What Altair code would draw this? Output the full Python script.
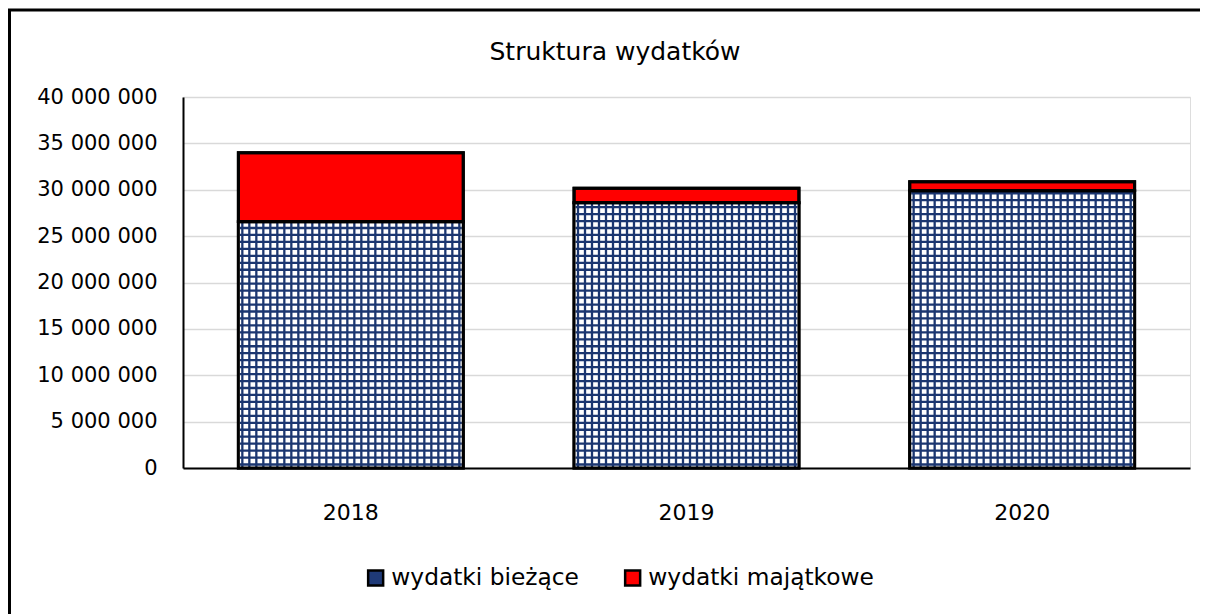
import altair as alt
import pandas as pd

years = ["2018", "2019", "2020"]
biezace = [26550000, 28600000, 29900000]
majatkowe = [7450000, 1560000, 970000]
categories = ["wydatki bieżące", "wydatki majątkowe"]
colors = ["#1F3A78", "#FF0000"]
title_text = "Struktura wydatków"

rows = []
for y, b, m in zip(years, biezace, majatkowe):
    rows.append({"rok": y, "kategoria": categories[0], "start": 0, "end": b})
    rows.append({"rok": y, "kategoria": categories[1], "start": b, "end": b + m})
df = pd.DataFrame(rows)

W, H = 1007, 371
YMAX = 40000000
NAVY = "#1B3670"
FONT = "DejaVu Sans"
STEP_PX = W / len(years)
CELL = 7 / STEP_PX          # pattern cell size, in band units
HALF = 111 / STEP_PX        # half width of the hatched area, in band units
years_js = "[" + ",".join("'%s'" % y for y in years) + "]"

xaxis = alt.Axis(
    title=None, labelAngle=0, ticks=False, labelPadding=34, labelFontSize=22,
    labelFont=FONT, labelColor="black", domainColor="black", domainWidth=2, grid=False,
)
xscale = alt.Scale(paddingInner=0.33, paddingOuter=0.165)
xenc = alt.X("rok:N", sort=years, scale=xscale, axis=xaxis)
xenc_noaxis = alt.X("rok:N", sort=years, scale=xscale, axis=None)
qscale = alt.Scale(domain=[0, len(years)], nice=False, zero=False)

yscale = alt.Scale(domain=[0, YMAX], nice=False)
yaxis = alt.Axis(
    title=None, values=list(range(0, YMAX + 1, 5000000)), ticks=False, labelPadding=26,
    labelFontSize=21, labelFont=FONT, labelColor="black", domainColor="black",
    domainWidth=2, gridColor="#D9D9D9", gridWidth=1.5,
    labelExpr="replace(format(datum.value, ','), regexp(',', 'g'), ' ')",
)
yenc = alt.Y("start:Q", scale=yscale, axis=yaxis)

border = alt.Chart(pd.DataFrame({"a": [0]})).mark_rect(
    fillOpacity=0, stroke="black", strokeWidth=3
).encode(
    x=alt.value(-173.5), x2=alt.value(W + 60), y=alt.value(-87), y2=alt.value(H + 220)
)

title = alt.Chart(pd.DataFrame({"t": [title_text]})).mark_text(
    font=FONT, fontSize=25, color="black", baseline="middle", align="center"
).encode(text="t:N", x=alt.value(432), y=alt.value(-45))

base = alt.Chart().mark_bar(stroke="black", strokeWidth=3).encode(
    x=xenc,
    y=yenc,
    y2="end:Q",
    color=alt.Color(
        "kategoria:N",
        scale=alt.Scale(domain=categories, range=colors),
        legend=alt.Legend(
            title=None, orient="none", direction="horizontal", legendX=181, legendY=469,
            symbolType="square", symbolSize=225, symbolStrokeColor="black",
            symbolStrokeWidth=2.5, labelFontSize=23.3, labelFont=FONT, labelColor="black",
            labelOffset=4, columnPadding=41, labelLimit=500,
        ),
    ),
)

is_b = alt.datum.kategoria == categories[0]

white = alt.Chart().mark_bar(color="white").encode(
    x=xenc_noaxis, y=yenc, y2="end:Q"
).transform_filter(is_b)

hlines = alt.Chart().transform_filter(is_b).transform_calculate(
    v="sequence(375000, datum.end, 750000)",
    c=f"indexof({years_js}, datum.rok) + 0.5",
).transform_flatten(["v"]).transform_calculate(
    xa=f"datum.c - {HALF}", xb=f"datum.c + {HALF}"
).mark_rule(color=NAVY, strokeWidth=2.3).encode(
    x=alt.X("xa:Q", scale=qscale, axis=None),
    x2="xb:Q",
    y=alt.Y("v:Q", scale=yscale, axis=yaxis),
)

vlines = alt.Chart().transform_filter(is_b).transform_calculate(
    k="sequence(0, 32)"
).transform_flatten(["k"]).transform_calculate(
    xv=f"indexof({years_js}, datum.rok) + 0.5 + (datum.k - 15.5) * {CELL}"
).mark_rule(color=NAVY, strokeWidth=2.3).encode(
    x=alt.X("xv:Q", scale=qscale, axis=None),
    y=yenc,
    y2="end:Q",
)

outline = alt.Chart().mark_bar(filled=False, stroke="black", strokeWidth=3).encode(
    x=xenc_noaxis, y=yenc, y2="end:Q"
)

chart = alt.layer(border, title, base, white, hlines, vlines, outline, data=df).resolve_scale(
    x="independent"
).properties(
    width=W,
    height=H,
    autosize=alt.AutoSizeParams(type="none"),
    padding={"left": 175, "top": 89, "right": 10, "bottom": 146},
).configure_view(stroke=None).configure(background="white")

chart.save("out.html", embed_options={"renderer": "svg", "actions": False})
